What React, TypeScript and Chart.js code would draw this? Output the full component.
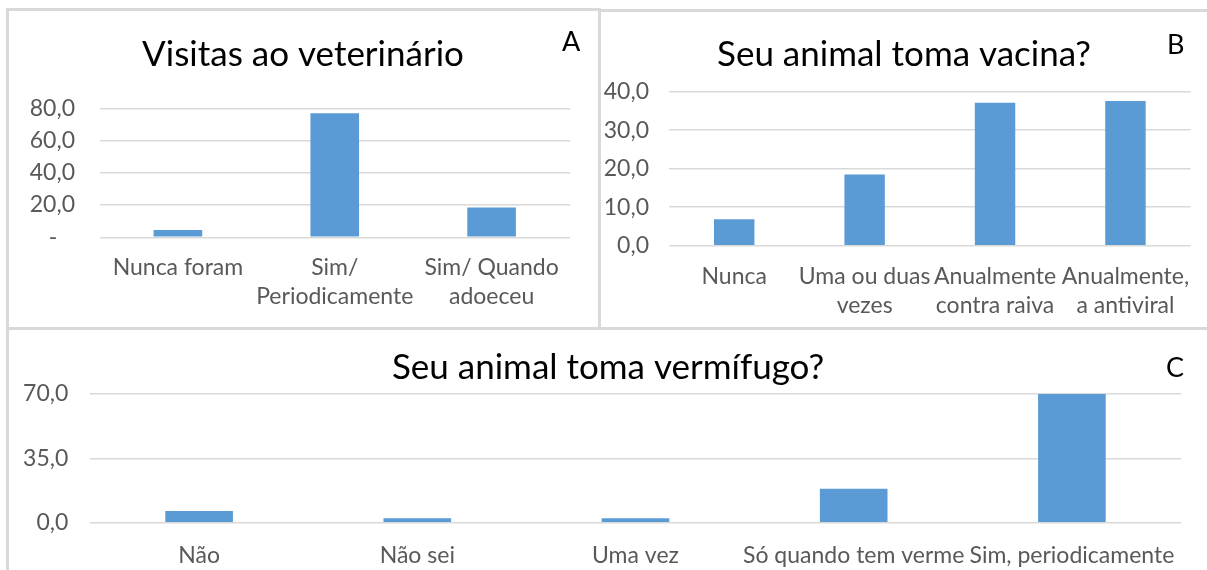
import React, { useEffect, useRef } from "react";
import { Chart, registerables } from "chart.js";

Chart.register(...registerables);

// ---- Data ----
const titleA = "Visitas ao veterinário";
const categoriesA: (string | string[])[] = ["Nunca foram", ["Sim/", "Periodicamente"], ["Sim/ Quando", "adoeceu"]];
const valuesA = [4.6, 76.9, 18.5];
const yMaxA = 80;
const yStepA = 20;

const titleB = "Seu animal toma vacina?";
const categoriesB: (string | string[])[] = ["Nunca", ["Uma ou duas", "vezes"], ["Anualmente", "contra raiva"], ["Anualmente,", "a antiviral"]];
const valuesB = [6.9, 18.5, 37.1, 37.6];
const yMaxB = 40;
const yStepB = 10;

const titleC = "Seu animal toma vermífugo?";
const categoriesC: string[] = ["Não", "Não sei", "Uma vez", "Só quando tem verme", "Sim, periodicamente"];
const valuesC = [6.3, 2.4, 2.4, 18.5, 70.0];
const yMaxC = 70;
const yStepC = 35;

const BAR = "#5B9BD5";
const GRID = "#d9d9d9";
const TICK = "#595959";
const FONT = "Lato, 'Open Sans', sans-serif";

const fmt = (v: number, dashZero: boolean) =>
  dashZero && v === 0 ? "-   " : v.toFixed(1).replace(".", ",");

type Cfg = {
  title: string;
  labels: (string | string[])[];
  values: number[];
  max: number;
  step: number;
  dashZero: boolean;
  yWidth: number;
  yPad: number;
  xHeight: number;
  xPad: number;
  padRight: number;
  titlePadTop: number;
  titlePadBottom: number;
  barPct: number;
};

function BarPanel({ cfg, style }: { cfg: Cfg; style: React.CSSProperties }) {
  const ref = useRef<HTMLCanvasElement | null>(null);
  useEffect(() => {
    if (!ref.current) return;
    const chart = new Chart(ref.current, {
      type: "bar",
      data: {
        labels: cfg.labels,
        datasets: [
          {
            data: cfg.values,
            backgroundColor: BAR,
            barPercentage: cfg.barPct,
            categoryPercentage: 1,
          },
        ],
      },
      options: {
        animation: false,
        responsive: false,
        maintainAspectRatio: false,
        layout: { padding: 0 },
        plugins: {
          legend: { display: false },
          tooltip: { enabled: false },
          title: {
            display: true,
            text: cfg.title,
            color: "#000",
            font: { family: FONT, size: 35, weight: "normal", lineHeight: 1.2 },
            padding: { top: cfg.titlePadTop, bottom: cfg.titlePadBottom },
          },
        },
        scales: {
          x: {
            grid: { display: false, drawTicks: false },
            border: { display: false },
            ticks: {
              color: TICK,
              font: { family: FONT, size: 23, lineHeight: 1.26 },
              padding: cfg.xPad,
              maxRotation: 0,
              autoSkip: false,
            },
            afterFit: (s: any) => {
              s.height = cfg.xHeight;
            },
          },
          y: {
            min: 0,
            max: cfg.max,
            grid: { color: GRID, lineWidth: 1.5, drawTicks: false },
            border: { display: false },
            ticks: {
              stepSize: cfg.step,
              color: TICK,
              font: { family: FONT, size: 23 },
              padding: cfg.yPad,
              callback: (v: any) => fmt(Number(v), cfg.dashZero),
            },
            afterFit: (s: any) => {
              s.width = cfg.yWidth;
            },
          },
          // empty right-hand spacer so the plot ends where the reference's does
          ySpacer: {
            type: "linear",
            position: "right",
            min: 0,
            max: cfg.max,
            grid: { display: false, drawTicks: false },
            border: { display: false },
            ticks: { display: false },
            afterFit: (s: any) => {
              s.width = cfg.padRight;
            },
          },
        },
      },
    });
    return () => chart.destroy();
  }, []);
  return (
    <canvas
      ref={ref}
      width={style.width as number}
      height={style.height as number}
      style={{ position: "absolute", ...style }}
    />
  );
}

const box = (l: number, t: number, w: number, h: number): React.CSSProperties => ({
  position: "absolute",
  left: l,
  top: t,
  width: w,
  height: h,
  border: "3px solid " + GRID,
  boxSizing: "border-box",
});

const letter = (l: number, t: number): React.CSSProperties => ({
  position: "absolute",
  left: l,
  top: t,
  fontFamily: FONT,
  fontSize: 27,
  lineHeight: "27px",
  color: "#000",
});

export default function App() {
  useEffect(() => {
    document.body.style.margin = "0";
  }, []);
  const cfgA: Cfg = {
    title: titleA, labels: categoriesA, values: valuesA, max: yMaxA, step: yStepA, dashZero: true,
    yWidth: 91.5, yPad: 24.5, xHeight: 89.7, xPad: 16, padRight: 28, titlePadTop: 24, titlePadBottom: 32.3, barPct: 0.31,
  };
  const cfgB: Cfg = {
    title: titleB, labels: categoriesB, values: valuesB, max: yMaxB, step: yStepB, dashZero: false,
    yWidth: 68, yPad: 20, xHeight: 81.3, xPad: 16.5, padRight: 11, titlePadTop: 23, titlePadBottom: 15.7, barPct: 0.31,
  };
  const cfgC: Cfg = {
    title: titleC, labels: categoriesC, values: valuesC, max: yMaxC, step: yStepC, dashZero: false,
    yWidth: 81, yPad: 21.7, xHeight: 47.3, xPad: 18, padRight: 26, titlePadTop: 16, titlePadBottom: 5, barPct: 0.31,
  };
  return (
    <div style={{ position: "fixed", left: 0, top: 0, width: 1207, height: 570, overflow: "hidden", background: "#fff" }}>
      <div style={box(6, 8, 595, 322)} />
      <div style={box(598, 9, 620, 321)} />
      <div style={box(6, 327, 1220, 260)} />
      <BarPanel cfg={cfgA} style={{ left: 8, top: 10, width: 590, height: 317 }} />
      <BarPanel cfg={cfgB} style={{ left: 601, top: 11, width: 606, height: 316 }} />
      <BarPanel cfg={cfgC} style={{ left: 9, top: 331, width: 1198, height: 239 }} />
      <div style={letter(562, 27)}>A</div>
      <div style={letter(1167, 30)}>B</div>
      <div style={letter(1166, 353)}>C</div>
    </div>
  );
}
